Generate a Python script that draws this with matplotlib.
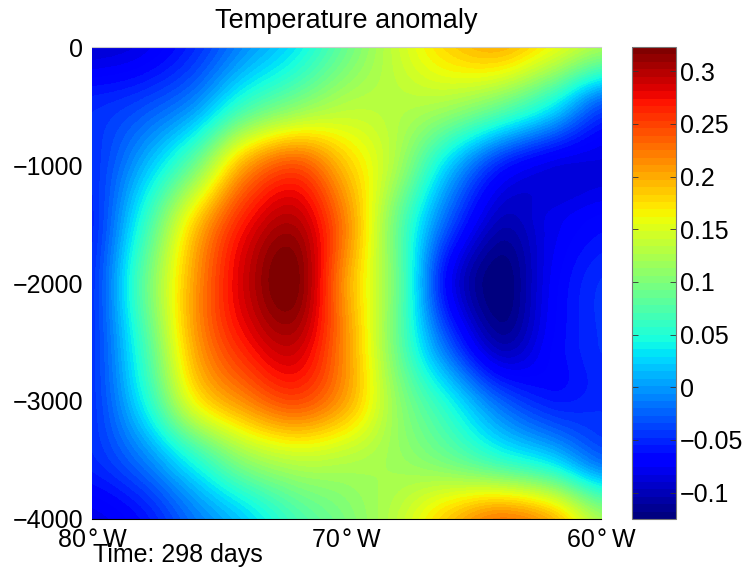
import numpy as np
import matplotlib
matplotlib.use("Agg")
import matplotlib.pyplot as plt
from matplotlib.ticker import FuncFormatter

plt.rcParams.update({"font.family": "Liberation Sans", "font.size": 18})

# section grid: longitude (deg E) and depth (m)
lon = [-80, -78, -76, -74, -72, -70, -68, -66, -64, -62, -60]
depth = [0, -500, -1000, -1500, -2000, -2500, -3000, -3500, -4000]

# temperature anomaly, one row per depth level
anomaly = [
    [-0.090, -0.080, -0.050, -0.005, 0.035, 0.090, 0.140, 0.180, 0.195, 0.160, 0.120],
    [-0.050, -0.035, -0.002, 0.065, 0.105, 0.130, 0.130, 0.120, 0.090, 0.040, -0.030],
    [-0.047, 0.010, 0.090, 0.200, 0.240, 0.185, 0.120, 0.025, -0.050, -0.080, -0.085],
    [-0.050, 0.054, 0.180, 0.270, 0.300, 0.215, 0.088, -0.030, -0.100, -0.080, -0.065],
    [-0.045, 0.080, 0.205, 0.290, 0.320, 0.205, 0.088, -0.070, -0.125, -0.075, -0.047],
    [-0.045, 0.065, 0.200, 0.270, 0.295, 0.210, 0.088, -0.030, -0.105, -0.070, -0.047],
    [-0.045, 0.040, 0.160, 0.215, 0.245, 0.200, 0.110, 0.043, -0.024, -0.055, -0.050],
    [-0.050, -0.013, 0.050, 0.110, 0.135, 0.130, 0.116, 0.093, 0.060, 0.030, -0.020],
    [-0.080, -0.060, -0.015, 0.025, 0.070, 0.100, 0.135, 0.185, 0.220, 0.195, 0.120],
]

lon_ticks = [-80, -70, -60]
lon_labels = ["80\u200a°\u2009W", "70\u200a°\u2009W", "60\u200a°\u2009W"]
depth_ticks = [0, -1000, -2000, -3000, -4000]
cbar_ticks = [-0.1, -0.05, 0, 0.05, 0.1, 0.15, 0.2, 0.25, 0.3]
vmin, vmax = -0.125, 0.323

fig = plt.figure(figsize=(7.49, 5.70), dpi=100)
ax = fig.add_axes([0.1228, 0.0895, 0.6796, 0.828])
cax = fig.add_axes([0.8438, 0.0895, 0.0587, 0.828])

field = np.array(anomaly)
dx = (lon[1] - lon[0]) / 2
dz = (depth[0] - depth[1]) / 2
im = ax.imshow(
    field,
    cmap=plt.get_cmap("jet", 64),
    vmin=vmin,
    vmax=vmax,
    interpolation="catrom",
    interpolation_stage="data",
    aspect="auto",
    extent=[lon[0] - dx, lon[-1] + dx, depth[-1] - dz, depth[0] + dz],
)
ax.set_xlim(lon[0], lon[-1])
ax.set_ylim(depth[-1], depth[0])
ax.set_xticks(lon_ticks)
ax.set_xticklabels(lon_labels)
ax.set_yticks(depth_ticks)
ax.tick_params(length=0, pad=6.5)
for side in ["left", "right"]:
    ax.spines[side].set_visible(False)
ax.spines["top"].set_color("#cccccc")
ax.spines["bottom"].set_color("black")
ax.set_title("Temperature anomaly", fontsize=19.5, pad=14)

cb = fig.colorbar(im, cax=cax, ticks=cbar_ticks)
cb.ax.yaxis.set_major_formatter(
    FuncFormatter(lambda v, p: ("%g" % v).replace("-", "\u2212"))
)
cb.ax.tick_params(direction="in", length=4, width=0.6, color="#333333",
                  left=True, right=True, pad=3)
cb.outline.set_edgecolor("#777777")
cb.outline.set_linewidth(0.8)

fig.text(93 / 749, 1 - 562 / 570, "Time: 298 days", fontsize=18,
         ha="left", va="baseline")

fig.savefig("out.png", dpi=100)
